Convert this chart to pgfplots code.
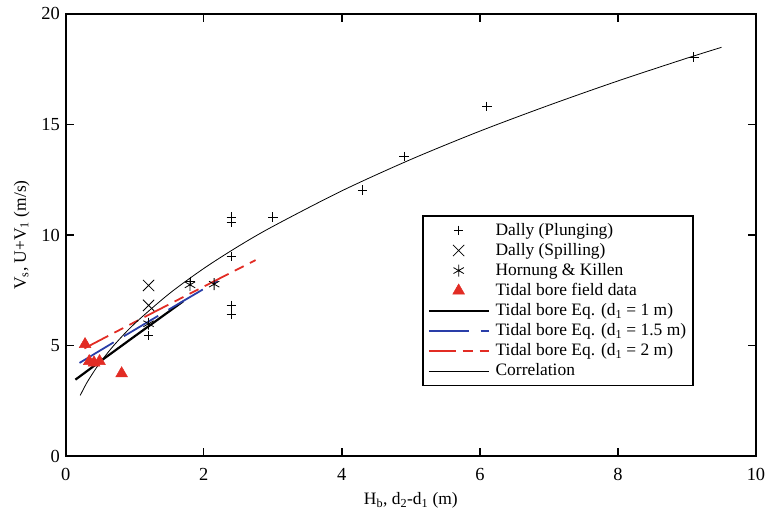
\documentclass[border=0pt]{standalone}
\usepackage{fontspec}
\setmainfont{Liberation Serif}
\usepackage{pgfplots}
\pgfplotsset{compat=1.18}
\definecolor{bred}{RGB}{226,44,36}
\definecolor{bblue}{RGB}{42,62,168}
\pgfplotsset{leg/.style={legend image code/.code={\draw[mark repeat=2,mark phase=2,##1] plot coordinates {(0pt,0pt) (30pt,0pt) (60pt,0pt)};}}}
\begin{document}
\fontsize{17.5}{20}\selectfont
\begin{tikzpicture}
\begin{axis}[
    width=693pt, height=444pt, scale only axis,
    xmin=0, xmax=10, ymin=0, ymax=20,
    xtick={0,2,...,10}, ytick={0,5,...,20},
    tick align=inside, major tick length=8pt,
    axis line style={line width=1.8pt},
    tick style={line width=1.4pt, black},
    /pgf/number format/assume math mode=true,
    ticklabel style={font=\fontsize{18.5}{20}\selectfont},
    xticklabel style={yshift=-6pt},
    label style={font=\fontsize{17.5}{20}\selectfont},
    xlabel={H\textsubscript{b}, d\textsubscript{2}-d\textsubscript{1} (m)},
    ylabel={V\textsubscript{s}, U+V\textsubscript{1} (m/s)},
    legend cell align=left,
    legend style={at={(0.516,0.158)}, anchor=south west, draw=black,
        line width=1.6pt, font=\fontsize{17.5}{20}\selectfont,
        inner xsep=5pt, inner ysep=5pt, row sep=1.4pt,
        /tikz/every odd column/.append style={column sep=4pt}},
]
% Dally (Plunging)
\addplot[only marks, mark=+, mark size=4.8pt, line width=0.8pt, black, leg] coordinates {
    (9.1,18.05) (6.1,15.82) (4.9,13.55) (4.3,12.04) (3.0,10.82)
    (2.4,10.82) (2.4,10.57) (2.4,9.04) (2.4,6.82) (2.4,6.40)
    (1.2,5.46) (1.8,7.9)
};
% Dally (Spilling)
\addplot[only marks, mark=x, mark size=8pt, line width=0.8pt, black, leg] coordinates {
    (1.2,7.72) (1.2,6.82)
};
% Hornung & Killen
\addplot[only marks, mark=asterisk, mark size=6pt, line width=0.8pt, black, leg] coordinates {
    (1.8,7.75) (2.15,7.78) (1.2,5.99)
};
% Tidal bore field data
\addplot[only marks, mark=triangle*, mark size=6.8pt, bred, line width=0.5pt, leg] coordinates {
    (0.28,5.06) (0.34,4.29) (0.41,4.23) (0.49,4.29) (0.81,3.74)
};
% Tidal bore Eq. d1 = 1 m
\addplot[black, line width=2.2pt, leg] coordinates {
    (0.14,3.46) (0.5,4.289) (1.0,5.425) (1.5,6.551) (1.7,7.0)
};
% Tidal bore Eq. d1 = 1.5 m
\addplot[bblue, line width=1.8pt, dash pattern=on 40pt off 12pt, leg] coordinates {
    (0.2,4.218) (0.7,5.159) (1.2,6.090) (1.7,7.013) (2.2,7.932)
};
% Tidal bore Eq. d1 = 2 m
\addplot[bred, line width=1.8pt, dash pattern=on 27pt off 7pt on 10pt off 7pt on 10pt off 7pt, leg] coordinates {
    (0.27,4.876) (0.75,5.660) (1.25,6.469) (1.75,7.272) (2.25,8.071) (2.75,8.868)
};
% Correlation
\addplot[black, line width=0.8pt, smooth, leg] coordinates {
    (0.21,2.75) (0.3,3.29) (0.4,3.79) (0.5,4.24) (0.7,5.02) (1,6.0)
    (1.5,7.35) (2,8.49) (2.5,9.49) (3,10.39) (4,12.0) (5,13.42)
    (6,14.70) (7,15.87) (8,16.97) (9,18.0) (9.5,18.49)
};
\legend{Dally (Plunging), Dally (Spilling), Hornung \& Killen, Tidal bore field data,
    Tidal bore Eq. (d\textsubscript{1} = 1 m), Tidal bore Eq. (d\textsubscript{1} = 1.5 m),
    Tidal bore Eq. (d\textsubscript{1} = 2 m), Correlation}
\end{axis}
\path (current axis.south west) ++(-66pt,-59pt) coordinate (bbsw);
\path (current axis.north east) ++(12pt,14pt) coordinate (bbne);
\path (bbsw) rectangle (bbne);
\end{tikzpicture}
\end{document}
